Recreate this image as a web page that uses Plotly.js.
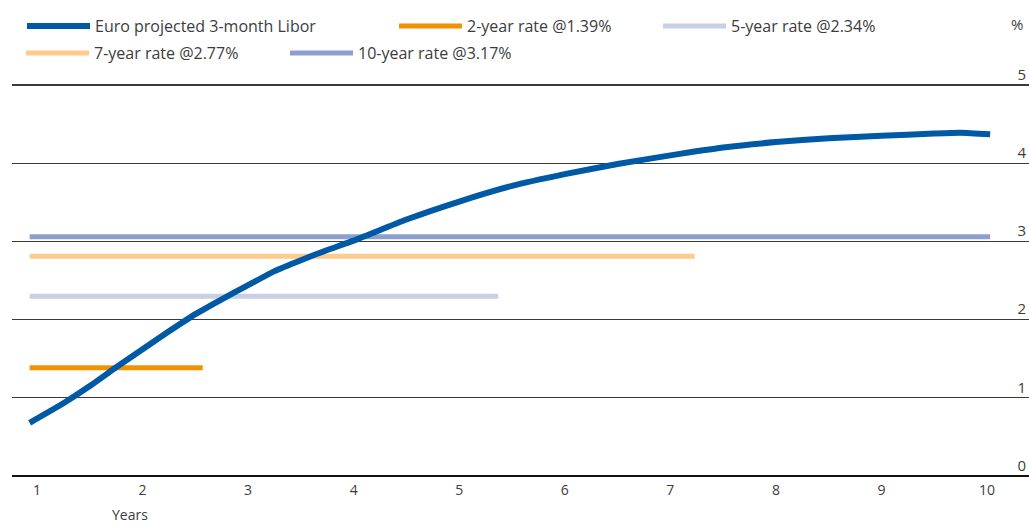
<!DOCTYPE html>
<html>
<head>
<meta charset="utf-8">
<script src="https://cdn.plot.ly/plotly-3.0.1.min.js"></script>
<style>html,body{margin:0;padding:0;background:#fff;}#chart{width:1029px;height:524px;}</style>
</head>
<body>
<div id="chart"></div>
<script>
// ---- data ----
const liborYears = [0.93, 1.25, 1.5, 1.75, 2.0, 2.25, 2.5, 2.75, 3.0, 3.25, 3.5, 3.75, 4.0, 4.5, 5.0, 5.5, 6.0, 6.5, 7.0, 7.5, 8.0, 8.5, 9.0, 9.5, 9.75, 10.03];
const liborRates = [0.68, 0.93, 1.15, 1.39, 1.62, 1.85, 2.07, 2.26, 2.44, 2.62, 2.76, 2.89, 3.01, 3.28, 3.51, 3.71, 3.86, 3.99, 4.10, 4.20, 4.27, 4.32, 4.35, 4.38, 4.39, 4.37];

const swapNames = ["2-year rate @1.39%", "5-year rate @2.34%", "7-year rate @2.77%", "10-year rate @3.17%"];
const swapStart = [0.93, 0.93, 0.93, 0.93];
const swapEnd   = [2.57, 5.37, 7.23, 10.03];
const swapLevel = [1.385, 2.30, 2.81, 3.06];

const xTickVals = [1, 2, 3, 4, 5, 6, 7, 8, 9, 10];
const yTickVals = [0, 1, 2, 3, 4, 5];

const FONT = "Open Sans, Lato, sans-serif";
const TXT = "#3c3c3c";
const swapColors = ["#f39200", "#c8cfe6", "#fdcb8c", "#8d9fcd"];
const swapLegends = ["legend2", "legend2", "legend3", "legend3"];

const traces = [];
for (let i = 0; i < swapNames.length; i++) {
  traces.push({
    x: [swapStart[i], swapEnd[i]], y: [swapLevel[i], swapLevel[i]],
    type: "scatter", mode: "lines", name: swapNames[i],
    line: {color: swapColors[i], width: 5},
    legend: swapLegends[i]
  });
}
traces.push({
  x: liborYears, y: liborRates, type: "scatter", mode: "lines",
  name: "Euro projected 3-month Libor",
  line: {color: "#0059a5", width: 6, shape: "spline", smoothing: 0.5},
  legend: "legend"
});

const W = 1029, H = 524;
function lg(px, py, ew) {
  return {orientation: "h", xref: "container", yref: "container",
    x: px / W, y: 1 - py / H, xanchor: "left", yanchor: "top",
    font: {family: FONT, size: 16, color: TXT}, itemwidth: 63,
    bgcolor: "rgba(0,0,0,0)", entrywidth: ew, entrywidthmode: "pixels",
    traceorder: "normal"};
}

const layout = {
  width: W, height: H,
  margin: {l: 12, r: 0, t: 80, b: 44},
  paper_bgcolor: "#fff", plot_bgcolor: "#fff",
  font: {family: FONT, color: TXT, size: 14},
  showlegend: true,
  legend: lg(22, 9, 320),
  legend2: lg(394, 9, 186),
  legend3: lg(21, 36, 186),
  xaxis: {
    range: [0.763, 10.398], tickvals: xTickVals, ticktext: xTickVals.map(String),
    showgrid: false, zeroline: false, showline: false, ticks: "",
    tickfont: {family: FONT, size: 14, color: TXT}, fixedrange: true
  },
  yaxis: {
    range: [-0.051, 5.064], tickvals: yTickVals, ticktext: yTickVals.map(String),
    side: "right", ticklabelposition: "inside top", ticklabeloverflow: "allow",
    showgrid: true, gridcolor: "#3a3a3a", gridwidth: 1.2,
    zeroline: true, zerolinecolor: "#111", zerolinewidth: 2,
    showline: false, ticks: "",
    tickfont: {family: FONT, size: 15, color: TXT}, fixedrange: true
  },
  annotations: [
    {text: "%", xref: "paper", yref: "paper", x: 1, y: 1, xanchor: "right", yanchor: "bottom",
     showarrow: false, xshift: -4, yshift: 44, font: {family: FONT, size: 15, color: TXT}},
    {text: "Years", xref: "x", yref: "paper", x: 1.88, y: 0, xanchor: "center", yanchor: "middle",
     showarrow: false, yshift: -34, font: {family: FONT, size: 14, color: TXT}}
  ]
};

Plotly.newPlot("chart", traces, layout, {displayModeBar: false, staticPlot: true});
</script>
</body>
</html>
